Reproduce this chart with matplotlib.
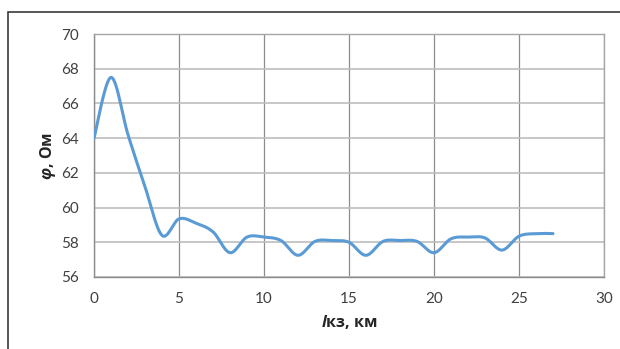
import numpy as np
import matplotlib

matplotlib.use("Agg")
import matplotlib.pyplot as plt
from matplotlib.patches import Rectangle

# distance to fault, km and measured angle values
l_kz = [0, 1, 2, 3, 4, 5, 6, 7, 8, 9, 10, 11, 12, 13, 14,
        15, 16, 17, 18, 19, 20, 21, 22, 23, 24, 25, 26, 27]
phi = [64.0, 67.5, 64.2, 61.2, 58.4, 59.35, 59.1, 58.6, 57.4, 58.3, 58.3, 58.1,
       57.25, 58.05, 58.1, 58.0, 57.25, 58.05, 58.1, 58.05, 57.4, 58.2, 58.3,
       58.25, 57.55, 58.35, 58.5, 58.5]

x_ticks = [0, 5, 10, 15, 20, 25, 30]
y_ticks = [56, 58, 60, 62, 64, 66, 68, 70]


def smooth_line(x, y, n=30):
    # Catmull-Rom style cubic Bezier segments (like a spreadsheet "smoothed line")
    x = np.asarray(x, float)
    y = np.asarray(y, float)
    px = np.concatenate([[x[0]], x, [x[-1]]])
    py = np.concatenate([[y[0]], y, [y[-1]]])
    t = np.linspace(0, 1, n)[:, None]
    xs, ys = [], []
    for i in range(1, len(px) - 2):
        p0 = np.array([px[i], py[i]])
        p3 = np.array([px[i + 1], py[i + 1]])
        c1 = p0 + (p3 - np.array([px[i - 1], py[i - 1]])) / 6
        c2 = p3 - (np.array([px[i + 2], py[i + 2]]) - p0) / 6
        pts = ((1 - t) ** 3 * p0 + 3 * (1 - t) ** 2 * t * c1
               + 3 * (1 - t) * t ** 2 * c2 + t ** 3 * p3)
        xs.append(pts[:, 0])
        ys.append(pts[:, 1])
    return np.concatenate(xs), np.concatenate(ys)


plt.rcParams["font.family"] = ["Lato", "DejaVu Sans"]
plt.rcParams["mathtext.fontset"] = "custom"
plt.rcParams["mathtext.bfit"] = "Open Sans:italic:bold"
plt.rcParams["mathtext.rm"] = "Open Sans"
plt.rcParams["mathtext.it"] = "Open Sans:italic"
plt.rcParams["mathtext.bf"] = "Open Sans:bold"

fig = plt.figure(figsize=(6.2, 3.49), dpi=100)
ax = fig.add_axes([94 / 620, 1 - 277 / 349, 510 / 620, 243 / 349])

sx, sy = smooth_line(l_kz, phi)
ax.plot(sx, sy, color="#5B9BD5", lw=2.2, solid_capstyle="round", zorder=3)

ax.set_xlim(0, 30)
ax.set_ylim(56, 70)
ax.set_xticks(x_ticks)
ax.set_yticks(y_ticks)
ax.grid(True, axis="x", color="#8c8c8c", lw=0.9)
ax.grid(True, axis="y", color="#bdbdbd", lw=1.2)
ax.set_axisbelow(True)
for side in ax.spines.values():
    side.set_color("#a6a6a6")
    side.set_linewidth(1.0)
ax.spines["left"].set_color("#8c8c8c")
ax.spines["bottom"].set_color("#8c8c8c")
ax.tick_params(length=0, labelsize=11, labelcolor="#404040")
ax.tick_params(axis="x", pad=10.5)
ax.tick_params(axis="y", pad=11)

label_font = ["Open Sans", "DejaVu Sans"]
ax.set_xlabel(r"$\mathbfit{l}$кз, км", fontsize=11.5, fontweight="bold",
              family=label_font, color="#262626", labelpad=5)
ax.set_ylabel(r"$\mathbfit{\varphi}$, Ом", fontsize=11.5, fontweight="bold",
              family=label_font, color="#262626", labelpad=2)

# outer chart frame
fig.patches.append(Rectangle((8 / 620, -0.1), 1.2, 1 - 12 / 349 + 0.1,
                             transform=fig.transFigure, fill=False,
                             edgecolor="#3a3a3a", lw=1.2))

fig.savefig("out.png", dpi=100)
